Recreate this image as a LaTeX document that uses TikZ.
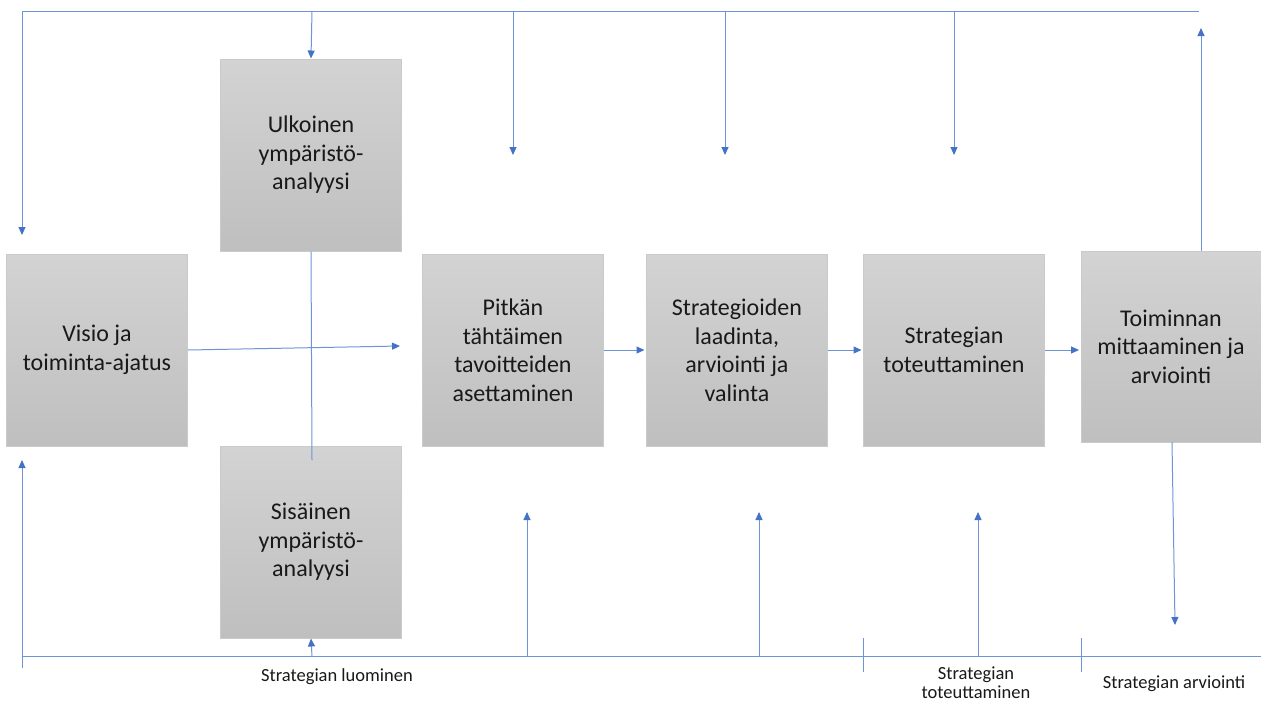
\documentclass[tikz,border=0pt]{standalone}
\usepackage{fontspec}
\setmainfont{Carlito}
\usetikzlibrary{arrows.meta}
\definecolor{lineblue}{HTML}{6E93D6}
\definecolor{tipblue}{HTML}{4472C4}
\definecolor{boxtop}{HTML}{D3D3D3}
\definecolor{boxbot}{HTML}{BFBFBF}
\definecolor{boxedge}{HTML}{CACACA}
\tikzset{
  stagebox/.style={draw=boxedge, line width=1pt, top color=boxtop, bottom color=boxbot,
    minimum width=181pt, minimum height=192pt, inner sep=0pt, align=center,
    font=\fontsize{24}{28.5}\selectfont, text=black!90},
  conn/.style={draw=lineblue, line width=1pt},
  arr/.style={conn, -{Triangle[length=8pt,width=7pt,color=tipblue]}},
  lbl/.style={font=\fontsize{18.5}{19}\selectfont, align=center, inner sep=0pt, text=black!90}
}
\begin{document}
\begin{tikzpicture}[x=1pt,y=-1pt]
\useasboundingbox (0,0) rectangle (1261,702);
% boxes
\node[stagebox] (visio) at (97,350) {Visio ja\\toiminta-ajatus};
\node[stagebox] (ulk) at (311,155) {Ulkoinen\\ympäristö-\\analyysi};
\node[stagebox] (sis) at (311,542) {Sisäinen\\ympäristö-\\analyysi};
\node[stagebox] (pit) at (513,350) {Pitkän\\tähtäimen\\tavoitteiden\\asettaminen};
\node[stagebox] (str) at (737,350) {Strategioiden\\laadinta,\\arviointi ja\\valinta};
\node[stagebox] (tot) at (954,350) {Strategian\\toteuttaminen};
\node[stagebox, minimum width=180pt, minimum height=191pt] (toi) at (1171,346.5) {Toiminnan\\mittaaminen ja\\arviointi};
% top frame
\coordinate (tl) at (22,11);
\coordinate (tr) at (1199,11);
\coordinate (la) at (22,235);
\coordinate (t1) at (312,11);
\coordinate (t2) at (513,11);
\coordinate (t3) at (725,11);
\coordinate (t4) at (954,11);
\coordinate (e2) at (513,155);
\coordinate (e3) at (725,155);
\coordinate (e4) at (954,155);
\coordinate (ru0) at (1201,251);
\coordinate (ru1) at (1201,28);
\draw[conn] (tl) -- (tr);
\draw[arr] (tl) -- (la);
\draw[arr] (t1) -- (ulk.north);
\draw[arr] (t2) -- (e2);
\draw[arr] (t3) -- (e3);
\draw[arr] (t4) -- (e4);
\draw[arr] (ru0) -- (ru1);
% middle
\coordinate (vm) at (312,460);
\draw[conn] (ulk.south) -- (vm);
\coordinate (va) at (400,346);
\draw[arr] (visio.east) -- (va);
\draw[arr, shorten >=1.5pt] (pit.east) -- (str.west);
\draw[arr, shorten >=1.5pt] (str.east) -- (tot.west);
\draw[arr, shorten >=1.5pt] (tot.east) -- (toi.west |- tot.east);
\coordinate (td0) at (1172,442);
\coordinate (td1) at (1175,625);
\draw[arr] (td0) -- (td1);
% bottom frame
\coordinate (bl) at (22,656);
\coordinate (bl0) at (22,668);
\coordinate (br) at (1261,656);
\coordinate (lu) at (22,460);
\draw[conn] (bl) -- (br);
\draw[arr] (bl0) -- (lu);
\coordinate (b1) at (312,656);
\coordinate (b2) at (527,656);
\coordinate (b3) at (759,656);
\coordinate (b4) at (978,656);
\coordinate (u2) at (527,512);
\coordinate (u3) at (759,512);
\coordinate (u4) at (978,512);
\draw[arr] (b1) -- (sis.south);
\draw[arr] (b2) -- (u2);
\draw[arr] (b3) -- (u3);
\draw[arr] (b4) -- (u4);
\coordinate (k1a) at (863,638);
\coordinate (k1b) at (863,672);
\coordinate (k2a) at (1081,638);
\coordinate (k2b) at (1081,672);
\draw[conn] (k1a) -- (k1b);
\draw[conn] (k2a) -- (k2b);
% labels
\node[lbl] (l1) at (337,677) {Strategian luominen};
\node[lbl] (l2) at (976,683) {Strategian\\toteuttaminen};
\node[lbl] (l3) at (1174,684) {Strategian arviointi};
\end{tikzpicture}
\end{document}
